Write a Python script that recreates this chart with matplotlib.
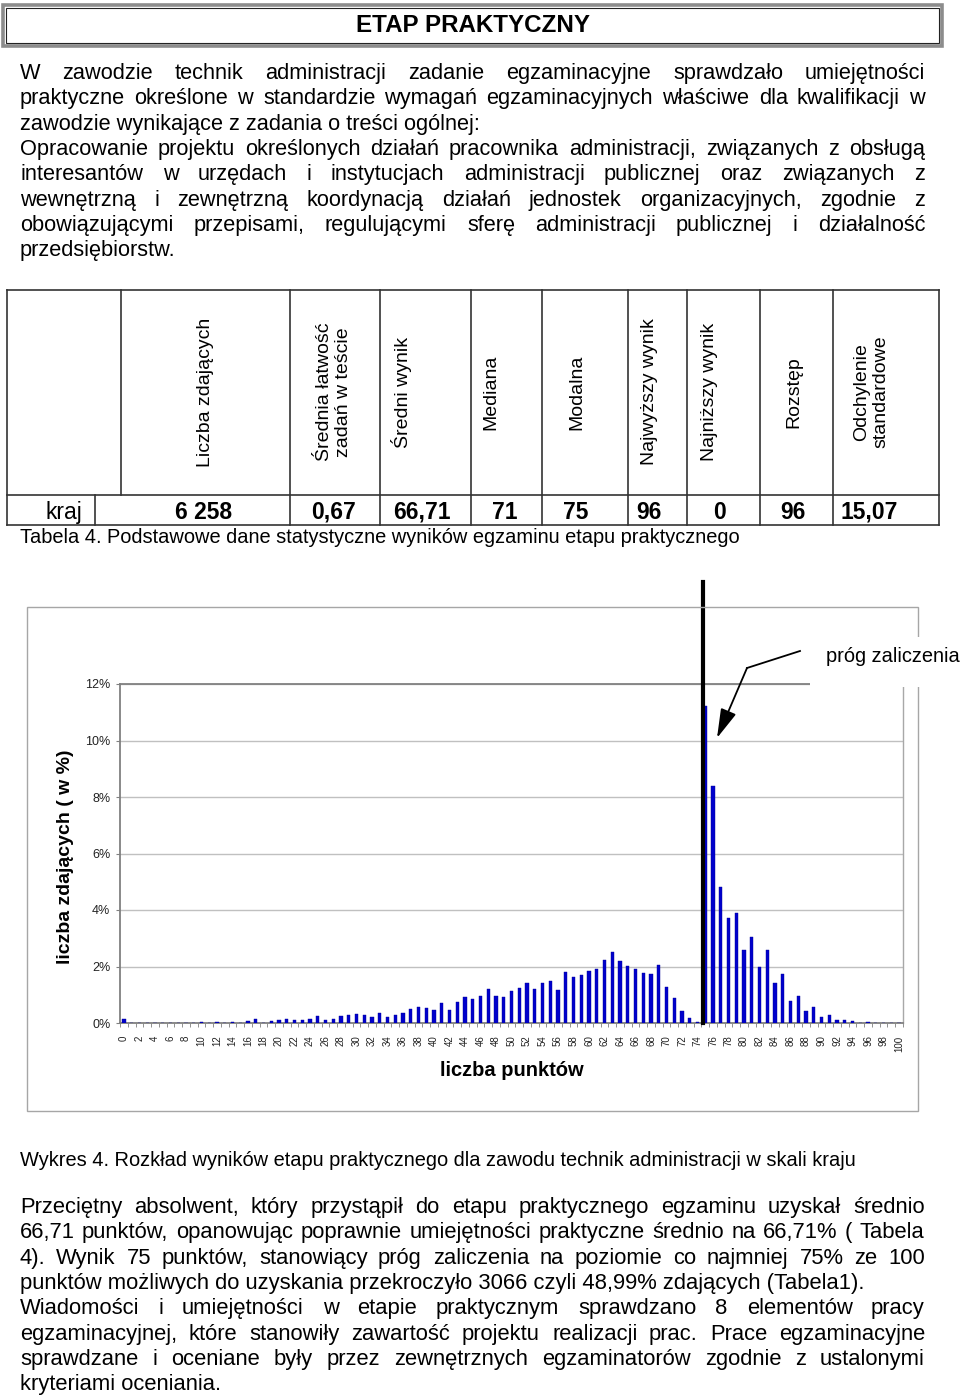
import numpy as np
import matplotlib
matplotlib.use('Agg')
import matplotlib.pyplot as plt
from matplotlib.patches import Rectangle
from matplotlib.ticker import MultipleLocator, PercentFormatter

plt.rcParams['font.family'] = ['Liberation Sans', 'DejaVu Sans']

# --- dane ---
punkty = np.arange(0, 101)
procent = [0.13, 0, 0, 0, 0, 0, 0, 0, 0, 0,
           0.05, 0, 0.05, 0, 0.05, 0, 0.08, 0.13, 0, 0.07,
           0.10, 0.14, 0.09, 0.09, 0.13, 0.24, 0.10, 0.14, 0.24, 0.29,
           0.31, 0.29, 0.20, 0.37, 0.22, 0.29, 0.35, 0.48, 0.55, 0.53,
           0.45, 0.70, 0.47, 0.74, 0.93, 0.86, 0.94, 1.21, 0.95, 0.91,
           1.13, 1.23, 1.41, 1.22, 1.41, 1.47, 1.16, 1.79, 1.63, 1.70,
           1.85, 1.90, 2.22, 2.50, 2.21, 2.01, 1.90, 1.76, 1.74, 2.05,
           1.26, 0.88, 0.44, 0.17, 0.03, 11.23, 8.40, 4.81, 3.73, 3.91,
           2.59, 3.04, 1.97, 2.59, 1.43, 1.75, 0.78, 0.95, 0.43, 0.58,
           0.22, 0.27, 0.09, 0.10, 0.08, 0, 0.02, 0, 0, 0, 0]
prog = 75

naglowki = ['Liczba zdających', 'Średnia łatwość\nzadań w teście', 'Średni wynik',
            'Mediana', 'Modalna', 'Najwyższy wynik', 'Najniższy wynik',
            'Rozstęp', 'Odchylenie\nstandardowe']
wiersz = ['6 258', '0,67', '66,71', '71', '75', '96', '0', '96', '15,07']

akapit1 = [
    ('W zawodzie technik administracji zadanie egzaminacyjne sprawdzało umiejętności', True),
    ('praktyczne określone w standardzie wymagań egzaminacyjnych właściwe dla kwalifikacji w', True),
    ('zawodzie wynikające z zadania o treści ogólnej:', False),
    ('Opracowanie projektu określonych działań pracownika administracji, związanych z obsługą', True),
    ('interesantów w urzędach i instytucjach administracji publicznej oraz związanych z', True),
    ('wewnętrzną i zewnętrzną koordynacją działań jednostek organizacyjnych, zgodnie z', True),
    ('obowiązującymi przepisami, regulującymi sferę administracji publicznej i działalność', True),
    ('przedsiębiorstw.', False),
]
akapit2 = [
    ('Przeciętny absolwent, który przystąpił do etapu praktycznego egzaminu uzyskał średnio', True),
    ('66,71 punktów, opanowując poprawnie umiejętności praktyczne średnio na 66,71% ( Tabela', True),
    ('4). Wynik 75 punktów, stanowiący próg zaliczenia na poziomie co najmniej 75% ze 100', True),
    ('punktów możliwych do uzyskania przekroczyło 3066 czyli 48,99% zdających (Tabela1).', False),
    ('Wiadomości i umiejętności w etapie praktycznym sprawdzano 8 elementów pracy', True),
    ('egzaminacyjnej, które stanowiły zawartość projektu realizacji prac. Prace egzaminacyjne', True),
    ('sprawdzane i oceniane były przez zewnętrznych egzaminatorów zgodnie z ustalonymi', True),
    ('kryteriami oceniania.', False),
]

W, H = 960, 1398
fig = plt.figure(figsize=(W / 100, H / 100), dpi=100)
fig.patch.set_facecolor('white')

# --- wykres ---
ax = fig.add_axes([120 / W, 1 - 1023 / H, 783 / W, 339 / H])
ax.bar(punkty, np.array(procent) / 100, width=0.42, color='#0000cc',
       edgecolor='#000099', linewidth=0.3, zorder=3)
ax.set_xlim(-0.5, 100.5)
ax.set_ylim(0, 0.12)
ax.yaxis.set_major_locator(MultipleLocator(0.02))
ax.yaxis.set_major_formatter(PercentFormatter(1.0, decimals=0))
ax.yaxis.grid(True, color='#c0c0c0', lw=1)
ax.set_axisbelow(True)
for s in ax.spines.values():
    s.set_color('#808080')
    s.set_linewidth(1.3)
ax.spines['right'].set_color('#a8a8a8')
ax.spines['right'].set_linewidth(1)
ax.tick_params(axis='y', direction='out', length=3, color='#808080',
               labelsize=9, pad=4, labelcolor='#222222')
ax.set_xticks(punkty[::2])
ax.set_xticklabels([str(p) for p in punkty[::2]], rotation=90)
ax.set_xticks(np.arange(-0.5, 101, 1), minor=True)
ax.tick_params(axis='x', which='major', length=0, labelsize=7, pad=9,
               labelcolor='#222222')
ax.tick_params(axis='x', which='minor', length=3, color='#808080')
# linia progu
ax.axvline(prog - 0.3, 0, 1.3, color='black', lw=3, clip_on=False, zorder=5)

# --- warstwa tekstowa ---
ov = fig.add_axes([0, 0, 1, 1], zorder=10)
ov.set_xlim(0, W)
ov.set_ylim(H, 0)
ov.axis('off')
ov.patch.set_alpha(0)
renderer = fig.canvas.get_renderer()


def linia(tekst, y, justuj, size, x0=20, x1=925):
    # wyjustowana linia tekstu: kazde slowo osobno, rowne odstepy
    y = round(y)
    slowa = tekst.split(' ')
    if not justuj:
        ov.text(x0, y, tekst, fontsize=size, va='baseline', ha='left')
        return
    obj = [ov.text(0, y, s, fontsize=size, va='baseline', ha='left') for s in slowa]
    szer = [t.get_window_extent(renderer).width for t in obj]
    odst = (x1 - x0 - sum(szer)) / (len(slowa) - 1)
    x = x0
    for t, w in zip(obj, szer):
        t.set_x(round(x))
        x += w + odst


# tytul
ov.add_patch(Rectangle((3, 5), 939, 41, fill=False, ec='#8c8c8c', lw=2.6))
ov.add_patch(Rectangle((6, 8), 933, 35, fill=False, ec='#222222', lw=0.8))
ov.text(473, 26, 'ETAP PRAKTYCZNY', fontsize=17.4, fontweight='bold',
        ha='center', va='center')

for i, (t, j) in enumerate(akapit1):
    linia(t, 79 + i * 25.3, j, 15.7)

# tabela
kol = [7, 121, 290, 380, 471, 542, 628, 687, 760, 833, 939]
kw = dict(color='#333333', lw=1.2)
for y in (290, 495, 525):
    ov.plot([7, 939], [y, y], **kw)
for x in kol:
    if x == 121:
        ov.plot([x, x], [290, 495], **kw)
    else:
        ov.plot([x, x], [290, 525], **kw)
ov.plot([95, 95], [495, 525], **kw)

xn = [205, 334, 401, 491, 577, 650, 709, 794, 871]
for x, t in zip(xn, naglowki):
    ov.text(x, 392, t, rotation=90, fontsize=14, ha='center', va='center',
            multialignment='center', linespacing=1.15)
xw = [204, 334, 422, 505, 576, 649, 720, 793, 869]
ov.text(64, 519, 'kraj', fontsize=16.5, ha='center', va='baseline')
for x, t in zip(xw, wiersz):
    ov.text(x, 519, t, fontsize=16.5, fontweight='bold', ha='center', va='baseline')
ov.text(20, 543, 'Tabela 4. Podstawowe dane statystyczne wyników egzaminu etapu praktycznego',
        fontsize=14.4, va='baseline')

# ramka wykresu
ov.add_patch(Rectangle((27, 607), 891, 504, fill=False, ec='#a6a6a6', lw=1))
ov.add_patch(Rectangle((810, 637), 160, 50, fc='white', ec='none', zorder=5))
ov.text(826, 657, 'próg zaliczenia', fontsize=14.4, va='center', ha='left', zorder=6)
ov.plot([800, 747], [651, 668], color='black', lw=1.3)
ov.annotate('', xy=(717, 738), xytext=(747, 668),
            arrowprops=dict(arrowstyle='-|>,head_length=0.9,head_width=0.25',
                            color='black', lw=1.3, mutation_scale=20,
                            shrinkA=0, shrinkB=0))
ov.text(66, 857, 'liczba zdających ( w %)', rotation=90, fontsize=14,
        fontweight='bold', ha='center', va='center')
ov.text(512, 1070, 'liczba punktów', fontsize=14.5, fontweight='bold',
        ha='center', va='center')

ov.text(20, 1166, 'Wykres 4. Rozkład wyników etapu praktycznego dla zawodu technik '
        'administracji w skali kraju', fontsize=14.4, va='baseline')

for i, (t, j) in enumerate(akapit2):
    linia(t, 1213 + i * 25.3, j, 15.8)

fig.savefig('out.png', dpi=100)
